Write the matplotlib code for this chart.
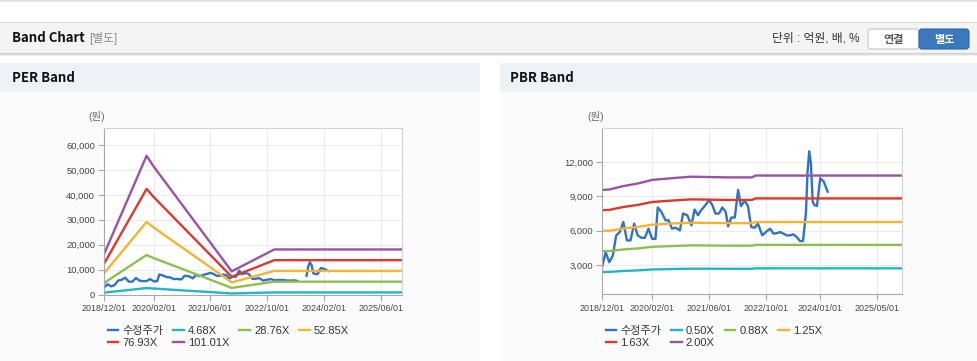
import matplotlib
matplotlib.use('Agg')
import matplotlib.pyplot as plt
from matplotlib.patches import Rectangle, FancyBboxPatch
import numpy as np
import pandas as pd

plt.rcParams['font.family'] = ['Liberation Sans', 'Noto Sans CJK KR']

# 수정주가 (adjusted price)
price_dates = ['2018-12-01', '2019-01-01', '2019-02-01', '2019-03-03', '2019-04-01',
               '2019-05-01', '2019-06-01', '2019-07-01', '2019-08-01', '2019-09-01',
               '2019-10-01', '2019-11-01', '2019-12-01', '2020-01-01', '2020-02-01',
               '2020-03-01', '2020-03-20', '2020-04-20', '2020-05-25', '2020-06-20',
               '2020-07-20', '2020-08-20', '2020-09-25', '2020-10-22', '2020-11-27',
               '2021-01-01', '2021-01-28', '2021-02-26', '2021-03-25', '2021-05-01',
               '2021-06-01', '2021-06-28', '2021-07-25', '2021-08-25', '2021-09-21',
               '2021-10-20', '2021-11-10', '2021-12-07', '2022-01-06', '2022-02-03',
               '2022-02-27', '2022-04-01', '2022-04-28', '2022-05-26', '2022-06-25',
               '2022-07-22', '2022-08-28', '2022-09-27', '2022-11-03', '2022-12-01',
               '2023-01-01', '2023-01-28', '2023-02-25', '2023-03-25', '2023-04-22',
               '2023-05-20', '2023-06-18', '2023-07-16', '2023-08-10', '2023-09-04',
               '2023-09-18', '2023-10-02', '2023-10-16', '2023-11-01', '2023-11-15',
               '2023-12-07', '2024-01-04', '2024-02-03', '2024-03-07']
price = [2800, 4120, 3240, 3820, 5590,
         5880, 6760, 5150, 5150, 6620,
         5590, 5380, 5380, 6180, 5290,
         5290, 8030, 7650, 6910, 6910,
         6180, 6260, 6030, 7500, 7350,
         6470, 7850, 7350, 7790, 8240,
         8680, 8240, 7500, 7500, 8030,
         7650, 6380, 7150, 7150, 9560,
         8150, 8620, 8150, 6320, 6260,
         6620, 5590, 5880, 6180, 5740,
         5790, 5880, 5740, 5590, 5590,
         5680, 5440, 5090, 5100, 7500,
         11180, 12940, 11910, 8530, 8240,
         8150, 10590, 10290, 9410]
# the PER chart has no price drawn in this window
per_gap = ('2023-06-25', '2023-08-31')

# PER band lines
per_dates = ['2018-12-01', '2019-12-01', '2020-02-01', '2021-12-01', '2022-12-01', '2025-12-01']
per_468 = [750, 2580, 2380, 430, 840, 840]
per_2876 = [4600, 15850, 14610, 2650, 5150, 5150]
per_5285 = [8460, 29120, 26850, 4860, 9460, 9460]
per_7693 = [12310, 42390, 39080, 7080, 13770, 13770]
per_10101 = [16160, 55660, 51310, 9290, 18080, 18080]
per_labels = ['4.68X', '28.76X', '52.85X', '76.93X', '101.01X']

# PBR band lines
pbr_dates = ['2018-12-01', '2019-02-01', '2019-06-01', '2019-10-01', '2020-02-01', '2020-08-01',
             '2021-01-01', '2021-11-01', '2022-06-01', '2022-07-01', '2025-12-01']
pbr_050 = [2390, 2400, 2480, 2530, 2610, 2650, 2680, 2670, 2670, 2710, 2710]
pbr_088 = [4210, 4220, 4360, 4450, 4590, 4660, 4720, 4690, 4690, 4760, 4760]
pbr_125 = [5980, 6000, 6190, 6330, 6530, 6630, 6700, 6660, 6660, 6760, 6760]
pbr_163 = [7790, 7820, 8070, 8250, 8510, 8640, 8740, 8690, 8690, 8820, 8820]
pbr_200 = [9560, 9600, 9900, 10120, 10440, 10600, 10720, 10660, 10660, 10820, 10820]
pbr_labels = ['0.50X', '0.88X', '1.25X', '1.63X', '2.00X']

per_yticks = [0, 10000, 20000, 30000, 40000, 50000, 60000]
pbr_yticks = [3000, 6000, 9000, 12000]
per_xticks = ['2018/12/01', '2020/02/01', '2021/06/01', '2022/10/01', '2024/02/01', '2025/06/01']
pbr_xticks = ['2018/12/01', '2020/02/01', '2021/06/01', '2022/10/01', '2024/01/01', '2025/05/01']

band_colors = ['#22b4c7', '#8dbf4f', '#f5b335', '#d93a2f', '#9a52a3']
price_color = '#2f73c8'

W, H = 978, 361
fig = plt.figure(figsize=(W / 100, H / 100), dpi=100)
fig.patch.set_facecolor('white')

# page furniture drawn in pixel coordinates
bg = fig.add_axes([0, 0, 1, 1])
bg.set_xlim(0, W)
bg.set_ylim(H, 0)
bg.axis('off')
bg.add_patch(Rectangle((0, 0), W, 1.5, fc='#e2e2e2', ec='none'))
bg.add_patch(Rectangle((0, 22), W, 31, fc='#f4f4f4', ec='none'))
bg.add_patch(Rectangle((0, 22), W, 1, fc='#d8d8d8', ec='none'))
for i, c in enumerate(['#cfcfcf', '#e0e0e0', '#eeeeee']):
    bg.add_patch(Rectangle((0, 53 + i), W, 1, fc=c, ec='none'))
for x0, w in [(0, 480), (500, 478)]:
    bg.add_patch(Rectangle((x0, 63), w, 29, fc='#eef2f7', ec='none'))
    bg.add_patch(Rectangle((x0, 92), w, 269, fc='#fbfbfb', ec='none'))

bold = dict(family=['Noto Sans CJK KR'], weight='bold')
bg.text(12, 38.5, 'Band Chart', fontsize=9.5, color='#111111', va='center', **bold)
bg.text(89, 38.5, '[별도]', fontsize=8.5, color='#8a8a8a', va='center')
bg.text(859, 38.5, '단위 : 억원, 배, %', fontsize=8.5, color='#333333', va='center', ha='right')
bg.add_patch(FancyBboxPatch((868, 29), 51, 20, boxstyle='round,pad=0,rounding_size=3',
                            fc='white', ec='#c4c4c4', lw=0.8))
bg.add_patch(FancyBboxPatch((919, 29), 50, 20, boxstyle='round,pad=0,rounding_size=3',
                            fc='#3b79be', ec='#2f66a5', lw=0.8))
bg.text(893.5, 39, '연결', fontsize=8, color='#555555', ha='center', va='center', **bold)
bg.text(944, 39, '별도', fontsize=8, color='white', ha='center', va='center', **bold)
bg.text(12, 78, 'PER Band', fontsize=9.5, color='#111111', va='center', **bold)
bg.text(510, 78, 'PBR Band', fontsize=9.5, color='#111111', va='center', **bold)
bg.text(97, 117, '(원)', fontsize=7.5, color='#666666', ha='center', va='center')
bg.text(596, 117, '(원)', fontsize=7.5, color='#666666', ha='center', va='center')


def px_axes(l, t, r, b):
    return fig.add_axes([l / W, 1 - b / H, (r - l) / W, (b - t) / H])


def style(ax, yticks, xticks, ylim):
    ax.set_facecolor('white')
    ax.set_ylim(*ylim)
    ax.set_yticks(yticks)
    ax.set_yticklabels([f'{v:,}' for v in yticks])
    ax.set_xticks(pd.to_datetime(xticks, format='%Y/%m/%d'))
    ax.set_xticklabels(xticks)
    ax.set_xlim(pd.Timestamp('2018-12-01'), pd.Timestamp('2025-12-01'))
    ax.grid(color='#ebebeb', lw=0.8)
    ax.set_axisbelow(True)
    for s in ['left', 'bottom']:
        ax.spines[s].set_color('#a8a8a8')
        ax.spines[s].set_linewidth(0.8)
    for s in ['top', 'right']:
        ax.spines[s].set_color('#d4d4d4')
        ax.spines[s].set_linewidth(0.8)
    ax.tick_params(axis='y', length=4, width=0.8, color='#a8a8a8', labelsize=6.8,
                   labelcolor='#444444', pad=2.4)
    ax.tick_params(axis='x', length=4, width=0.8, color='#a8a8a8', labelsize=6.4,
                   labelcolor='#444444', pad=3)


def legend(ax, handles):
    # reorder so the column-first fill gives the reference's row order
    order = [0, 4, 1, 5, 2, 3]
    hs = [handles[i] for i in order]
    ax.legend(hs, [h.get_label() for h in hs], ncol=4, loc='upper left',
              bbox_to_anchor=(0.012, -0.19), frameon=False, fontsize=8,
              handlelength=0.95, handletextpad=0.37, columnspacing=0.9,
              labelspacing=0.2, borderpad=0, borderaxespad=0, labelcolor='#333333')


pdates = pd.to_datetime(price_dates)
price_arr = np.array(price, dtype=float)
LW = 1.7

# PER chart
ax1 = px_axes(104, 128.3, 402, 294.5)
style(ax1, per_yticks, per_xticks, (0, 66700))
per_price = price_arr.copy()
per_price[(pdates > per_gap[0]) & (pdates < per_gap[1])] = np.nan
hs = [ax1.plot(pdates, per_price, color=price_color, lw=LW, label='수정주가')[0]]
for vals, lab, c in zip([per_468, per_2876, per_5285, per_7693, per_10101], per_labels, band_colors):
    hs.append(ax1.plot(pd.to_datetime(per_dates), vals, color=c, lw=LW, label=lab)[0])
legend(ax1, hs)

# PBR chart
ax2 = px_axes(602, 128.3, 902, 294.3)
style(ax2, pbr_yticks, pbr_xticks, (440, 14950))
hs = [ax2.plot(pdates, price_arr, color=price_color, lw=LW, label='수정주가')[0]]
for vals, lab, c in zip([pbr_050, pbr_088, pbr_125, pbr_163, pbr_200], pbr_labels, band_colors):
    hs.append(ax2.plot(pd.to_datetime(pbr_dates), vals, color=c, lw=LW, label=lab)[0])
legend(ax2, hs)

fig.savefig('out.png', dpi=100)
